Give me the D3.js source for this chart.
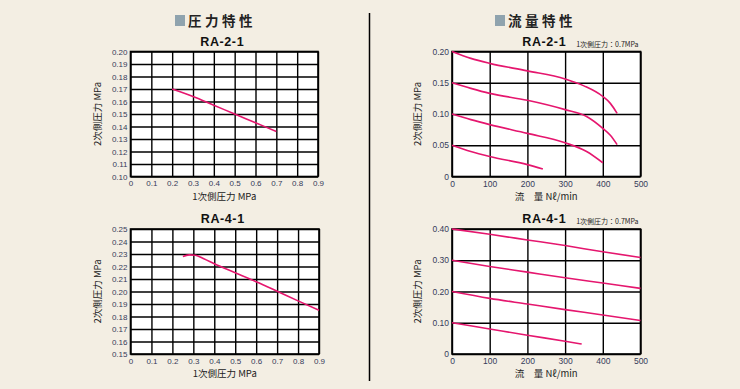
<!DOCTYPE html>
<html>
<head>
<meta charset="utf-8">
<script src="https://d3js.org/d3.v7.min.js"></script>
<style>
  body { margin: 0; background: #f3eee3; }
  text { font-family: "Liberation Sans", Arial, "Noto Sans CJK JP", sans-serif; }
  .jp { font-family: "Noto Sans CJK JP", sans-serif; }
</style>
</head>
<body>
<script>
// pressure characteristics (primary pressure -> secondary pressure)
var pX = [0, 0.1, 0.2, 0.3, 0.4, 0.5, 0.6, 0.7, 0.8, 0.9];
var ra2Pressure = [[0.2, 0.170], [0.3, 0.164], [0.4, 0.157], [0.5, 0.150], [0.6, 0.143], [0.7, 0.136]];
var ra4Pressure = [[0.25, 0.228], [0.28, 0.2293], [0.31, 0.229], [0.35, 0.2262], [0.4, 0.2222], [0.5, 0.215],
                   [0.6, 0.2078], [0.7, 0.2002], [0.8, 0.1925], [0.9, 0.185]];
var ra2Ticks = [0.10, 0.11, 0.12, 0.13, 0.14, 0.15, 0.16, 0.17, 0.18, 0.19, 0.20];
var ra4Ticks = [0.15, 0.16, 0.17, 0.18, 0.19, 0.20, 0.21, 0.22, 0.23, 0.24, 0.25];

// flow characteristics (flow Nl/min -> secondary pressure)
var fX = [0, 100, 200, 300, 400, 500];
var ra2Flow = [
  [[0, 0.200], [50, 0.189], [100, 0.181], [200, 0.169], [300, 0.156], [350, 0.145], [400, 0.128], [420, 0.117], [438, 0.101]],
  [[0, 0.150], [50, 0.141], [100, 0.133], [200, 0.122], [300, 0.107], [357, 0.096], [400, 0.077], [420, 0.066], [438, 0.051]],
  [[0, 0.100], [50, 0.091], [100, 0.083], [200, 0.069], [300, 0.054], [357, 0.040], [400, 0.022]],
  [[0, 0.050], [50, 0.040], [100, 0.032], [200, 0.019], [241, 0.012]]
];
var ra4Flow = [
  [[0, 0.400], [100, 0.383], [200, 0.365], [300, 0.347], [400, 0.327], [500, 0.309]],
  [[0, 0.300], [100, 0.280], [200, 0.262], [300, 0.244], [400, 0.227], [500, 0.210]],
  [[0, 0.200], [100, 0.178], [200, 0.160], [300, 0.142], [400, 0.125], [500, 0.107]],
  [[0, 0.100], [100, 0.080], [200, 0.060], [300, 0.041], [344, 0.032]]
];
var ra2FlowTicks = [0, 0.05, 0.10, 0.15, 0.20];
var ra4FlowTicks = [0, 0.10, 0.20, 0.30, 0.40];

var lineColor = "#e5166e";
var labelColor = "#353b5a";

var svg = d3.select("body").append("svg")
  .attr("width", 740).attr("height", 389);

svg.append("rect").attr("width", 740).attr("height", 389).attr("fill", "#f3eee3");

// divider
svg.append("line").attr("x1", 369.5).attr("x2", 369.5).attr("y1", 13).attr("y2", 381)
  .attr("stroke", "#000").attr("stroke-width", 1.5);

function header(x, txt) {
  svg.append("rect").attr("x", x).attr("y", 15).attr("width", 10).attr("height", 11).attr("fill", "#8fa3ae");
  svg.append("text").attr("class", "jp").attr("x", x + 13).attr("y", 25.5)
    .attr("font-size", 13.5).attr("font-weight", "bold").attr("letter-spacing", 3.5)
    .attr("fill", "#222").text(txt);
}
header(175, "圧力特性");
header(495, "流量特性");

function chart(o) {
  var x = d3.scaleLinear().domain(o.xd).range([o.l, o.r]);
  var y = d3.scaleLinear().domain(o.yd).range([o.b, o.t]);
  var g = svg.append("g");
  g.append("rect").attr("x", o.l).attr("y", o.t).attr("width", o.r - o.l).attr("height", o.b - o.t)
    .attr("fill", "#fff");
  var gx = g.append("g").attr("transform", "translate(0," + o.b + ")")
    .call(d3.axisBottom(x).tickValues(o.xt).tickSize(-(o.b - o.t)).tickPadding(4).tickFormat(o.xf));
  var gy = g.append("g").attr("transform", "translate(" + o.l + ",0)")
    .call(d3.axisLeft(y).tickValues(o.yt).tickSize(-(o.r - o.l)).tickPadding(3).tickFormat(o.yf));
  [gx, gy].forEach(function (a) {
    a.select(".domain").remove();
    a.selectAll("line").attr("stroke", "#000").attr("stroke-width", 1.4);
    a.selectAll("text").attr("fill", labelColor).attr("font-size", o.fs)
      .attr("font-family", "'Liberation Sans', Arial, sans-serif");
  });
  g.append("rect").attr("x", o.l).attr("y", o.t).attr("width", o.r - o.l).attr("height", o.b - o.t)
    .attr("fill", "none").attr("stroke", "#000").attr("stroke-width", 1.6);

  var line = d3.line().x(function (d) { return x(d[0]); }).y(function (d) { return y(d[1]); })
    .curve(d3.curveMonotoneX);
  o.series.forEach(function (s) {
    g.append("path").datum(s).attr("d", line).attr("fill", "none")
      .attr("stroke", lineColor).attr("stroke-width", 1.6);
  });

  var cx = (o.l + o.r) / 2;
  g.append("text").attr("x", cx - 2).attr("y", o.t - 6).attr("text-anchor", "middle")
    .attr("font-size", 12.5).attr("font-weight", "bold").attr("letter-spacing", 0.6).attr("fill", "#111")
    .text(o.title);
  if (o.note) {
    g.append("text").attr("class", "jp").attr("x", o.r - 2).attr("y", o.t - 5).attr("text-anchor", "end")
      .attr("font-size", 7).attr("fill", "#222").text(o.note);
  }
  g.append("text").attr("class", "jp").attr("x", cx + (o.xtOff || 0)).attr("y", o.b + 23).attr("text-anchor", "middle")
    .attr("font-size", 9.5).attr("fill", "#222").attr("xml:space", "preserve").text(o.xlab);
  g.append("text").attr("class", "jp")
    .attr("transform", "translate(" + o.yx + "," + ((o.t + o.b) / 2) + ") rotate(-90)")
    .attr("text-anchor", "middle").attr("font-size", 9.5).attr("fill", "#222").text("2次側圧力 MPa");
}

var fmtP = function (d) { return d === 0 ? "0" : d3.format(".1f")(d); };

chart({ l: 130.5, r: 318, t: 51.5, b: 176.5, xd: [0, 0.9], yd: [0.10, 0.20], xt: pX, yt: ra2Ticks,
  xf: fmtP, yf: d3.format(".2f"), fs: 8, series: [ra2Pressure], title: "RA-2-1",
  xlab: "1次側圧力 MPa", yx: 101 });
chart({ l: 130.5, r: 319, t: 229, b: 354, xd: [0, 0.9], yd: [0.15, 0.25], xt: pX, yt: ra4Ticks,
  xf: fmtP, yf: d3.format(".2f"), fs: 8, series: [ra4Pressure], title: "RA-4-1",
  xlab: "1次側圧力 MPa", yx: 101 });
chart({ l: 452, r: 640.5, t: 51.5, b: 176.5, xd: [0, 500], yd: [0, 0.20], xt: fX, yt: ra2FlowTicks,
  xf: d3.format("d"), yf: function (d) { return d === 0 ? "0" : d3.format(".2f")(d); }, fs: 8.5,
  series: ra2Flow, title: "RA-2-1", note: "1次側圧力：0.7MPa",
  xlab: "流　量 Nℓ/min", yx: 421 });
chart({ l: 452, r: 640.5, t: 229, b: 354, xd: [0, 500], yd: [0, 0.40], xt: fX, yt: ra4FlowTicks,
  xf: d3.format("d"), yf: function (d) { return d === 0 ? "0" : d3.format(".2f")(d); }, fs: 8.5,
  series: ra4Flow, title: "RA-4-1", note: "1次側圧力：0.7MPa",
  xlab: "流　量 Nℓ/min", yx: 421 });
</script>
</body>
</html>
